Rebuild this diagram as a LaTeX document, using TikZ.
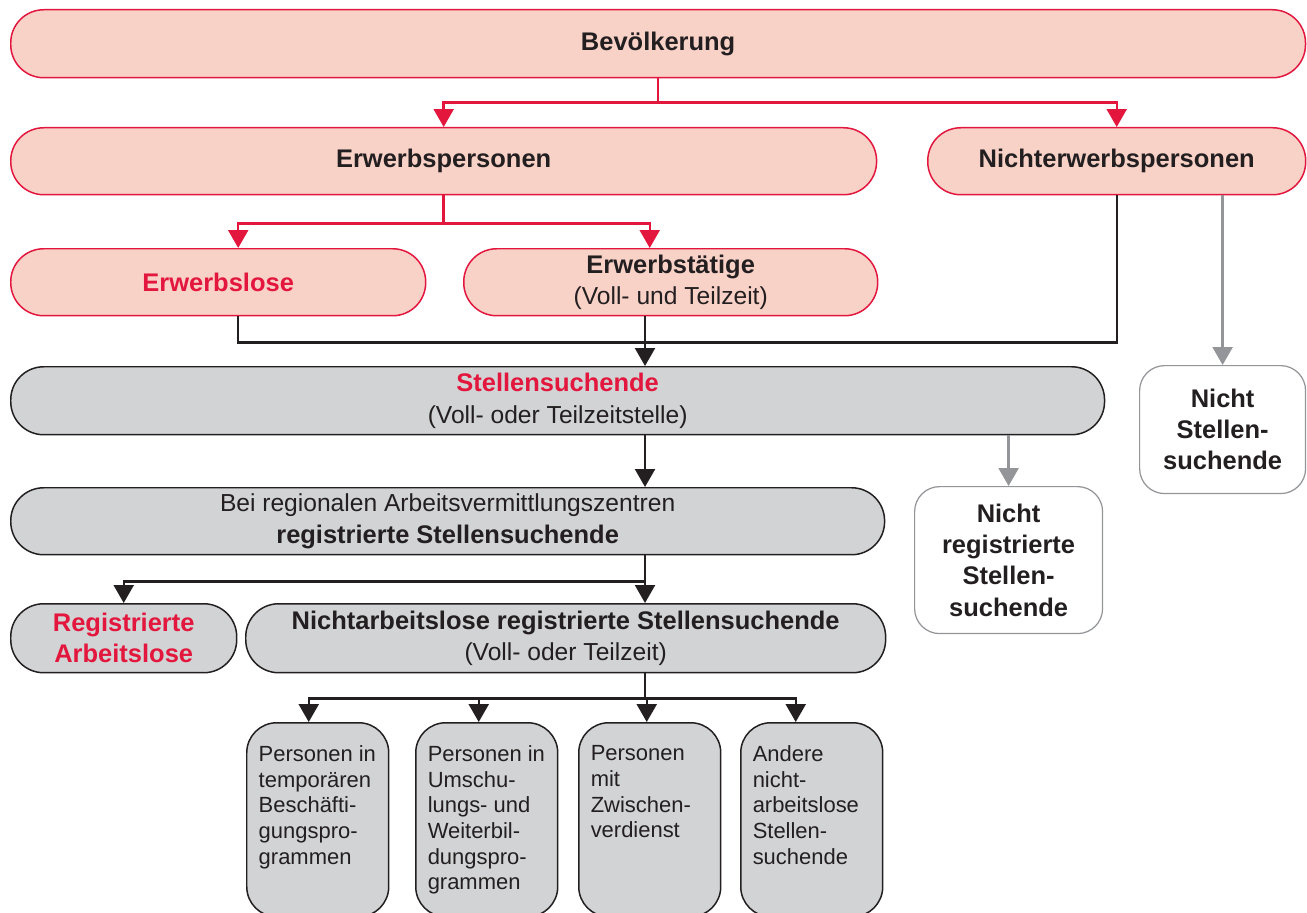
\documentclass[tikz,border=0pt]{standalone}
\usepackage{fontspec}
\setmainfont{Liberation Sans}
\usetikzlibrary{arrows.meta}
\definecolor{rvred}{HTML}{E3173E}
\definecolor{rvpink}{HTML}{F8D1C7}
\definecolor{rvgray}{HTML}{D1D3D4}
\definecolor{rvdark}{HTML}{231F20}
\definecolor{rvmid}{HTML}{939598}
\newcommand{\hd}[1]{{\fontsize{14.5}{17.8}\selectfont\bfseries #1}}
\newcommand{\prog}[1]{\parbox[t][2.96cm][t]{2.36cm}{\raggedright #1}}

\begin{document}
\begin{tikzpicture}[x=0.02cm,y=-0.02cm,>={Triangle[length=0.36cm,width=0.4cm]}]
  \tikzstyle{pill}=[anchor=north west,draw=rvred,fill=rvpink,line width=0.85pt,
              rounded corners=0.66cm,minimum height=1.34cm,inner sep=0pt,
              align=center,text=rvdark,font=\fontsize{14}{17.8}\selectfont]
  \tikzstyle{graypill}=[pill,draw=rvdark,fill=rvgray]
  \tikzstyle{outside}=[pill,draw=rvmid,fill=white,line width=0.7pt,rounded corners=0.5cm]
  \tikzstyle{progbox}=[anchor=north west,draw=rvdark,fill=rvgray,line width=0.85pt,
              rounded corners=0.6cm,minimum width=2.84cm,inner xsep=0.24cm,inner ysep=0.46cm,
              text=rvdark,font=\fontsize{12.5}{14.6}\selectfont]
  \tikzstyle{redline}=[draw=rvred,line width=1.35pt]
  \tikzstyle{blkline}=[draw=rvdark,line width=1.35pt]
  \tikzstyle{grayline}=[draw=rvmid,line width=1.35pt]

  \clip (0,0) rectangle (1307,912);
  \coordinate (axis) at (645,0);

  % pink row
  \node [pill,minimum width=25.9cm,minimum height=1.36cm] (bev) at (10,9) {\hd{Bevölkerung}};
  \node [pill,minimum width=17.32cm] (erwp) at (10,127) {\hd{Erwerbspersonen}};
  \node [pill,minimum width=7.56cm] (nerwp) at (927,127) {\hd{Nichterwerbspersonen}};
  \node [pill,minimum width=8.3cm] (elos) at (10,248) {\hd{\textcolor{rvred}{Erwerbslose}}};
  \node [pill,minimum width=8.28cm] (etat) at (463,248) {\hd{Erwerbstätige}\\(Voll- und Teilzeit)};

  % gray row
  \node [graypill,minimum width=21.88cm,minimum height=1.36cm] (stsu) at (10,366)
        {\hd{\textcolor{rvred}{Stellensuchende}}\\(Voll- oder Teilzeitstelle)};
  \node [graypill,minimum width=17.48cm] (rav) at (10,487)
        {Bei regionalen Arbeitsvermittlungszentren\\\hd{registrierte Stellensuchende}};
  \node [graypill,minimum width=4.52cm,minimum height=1.38cm] (regal) at (10,603)
        {\hd{\textcolor{rvred}{Registrierte}}\\\hd{\textcolor{rvred}{Arbeitslose}}};
  \node [graypill,minimum width=12.8cm,minimum height=1.38cm] (narb) at (245,603)
        {\hd{Nichtarbeitslose registrierte Stellensuchende}\\(Voll- oder Teilzeit)};
  \node [outside,minimum width=3.76cm,minimum height=2.94cm] (nreg) at (914,486)
        {\hd{Nicht}\\\hd{registrierte}\\\hd{Stellen-}\\\hd{suchende}};
  \node [outside,minimum width=3.32cm,minimum height=2.56cm] (nstsu) at (1139,365)
        {\hd{Nicht}\\\hd{Stellen-}\\\hd{suchende}};

  % programmes
  \node [progbox] (p1) at (246,722) {\prog{Personen in\\temporären\\Beschäfti-\\gungspro-\\grammen}};
  \node [progbox] (p2) at (415,722) {\prog{Personen in\\Umschu-\\lungs- und\\Weiterbil-\\dungspro-\\grammen}};
  \node [progbox] (p3) at (578,722) {\prog{Personen\\mit\\Zwischen-\\verdienst}};
  \node [progbox] (p4) at (740,722) {\prog{Andere\\nicht-\\arbeitslose\\Stellen-\\suchende}};

  % connectors
  \draw [redline,->] (bev.south) -- ++(0,24) -| (erwp.north);
  \draw [redline,->] (bev.south) -- ++(0,24) -| (nerwp.north);
  \draw [redline,->] (erwp.south) -- ++(0,28) -| ([xshift=0.4cm]elos.north);
  \draw [redline,->] (erwp.south) -- ++(0,28) -| ([xshift=-0.42cm]etat.north);
  \draw [blkline] ([xshift=0.4cm]elos.south) -- ++(0,26) -| (nerwp.south);
  \draw [blkline,->] (etat.south -| axis) -- (stsu.north -| axis);
  \draw [grayline,->] (nerwp.south -| nstsu.north) -- (nstsu.north);
  \draw [grayline,->] (stsu.south -| nreg.north) -- (nreg.north);
  \draw [blkline,->] (stsu.south -| axis) -- (rav.north -| axis);
  \draw [blkline,->] (rav.south -| axis) -- ++(0,26) -| (regal.north);
  \draw [blkline,->] (rav.south -| axis) -- (narb.north -| axis);
  \foreach \b/\dx in {p1/-0.18,p2/-0.16,p3/-0.06,p4/-0.32}
    \draw [blkline,->] (narb.south -| axis) -- ++(0,25) -| ([xshift=\dx cm]\b.north);
\end{tikzpicture}
\end{document}
